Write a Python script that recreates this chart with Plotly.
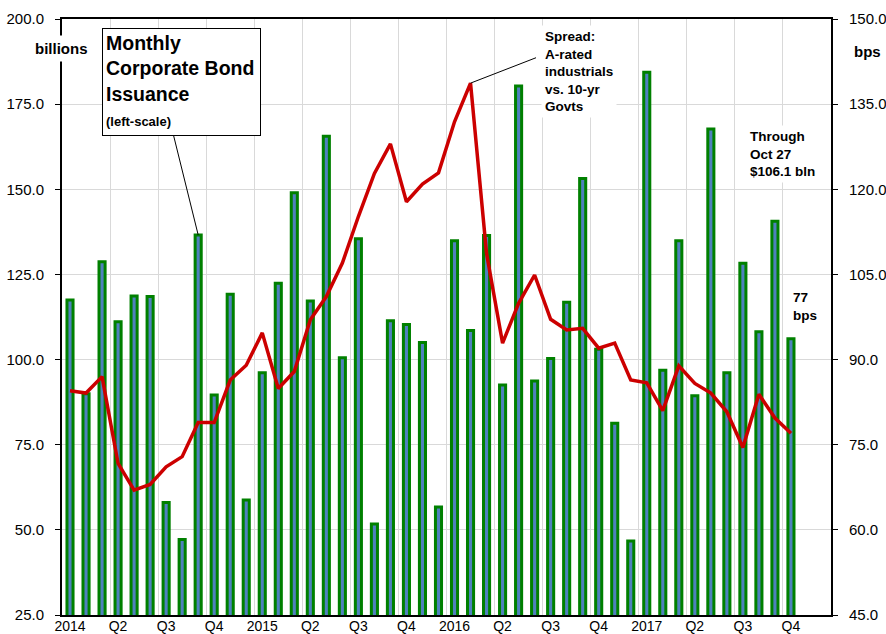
import plotly.graph_objects as go

# ---- data ----
months = [f"{y}-{m:02d}" for y in (2014, 2015, 2016, 2017) for m in range(1, 13)][:46]

issuance_bln = [117.5, 90.0, 128.7, 111.1, 118.7, 118.5, 58.0, 47.2, 136.6, 89.6, 119.2, 58.8,
                96.1, 122.4, 149.0, 117.2, 165.6, 100.5, 135.5, 51.7, 111.4, 110.3, 105.0, 56.7,
                134.9, 108.5, 136.4, 92.5, 180.3, 93.7, 100.3, 116.8, 153.2, 103.0, 81.3, 46.7,
                184.4, 96.9, 134.9, 89.4, 167.7, 96.1, 128.3, 108.2, 140.6, 106.1]

spread_bps = [84.5, 84.1, 87.0, 71.7, 67.0, 68.0, 71.1, 72.9, 78.9, 78.9, 86.4, 89.0,
              94.7, 84.9, 87.9, 97.0, 101.1, 107.0, 115.2, 122.8, 128.0, 117.8, 120.9, 122.9,
              131.9, 138.7, 108.7, 92.9, 99.9, 104.9, 97.1, 95.2, 95.5, 92.0, 92.9, 86.4,
              85.9, 81.0, 88.9, 85.8, 84.1, 80.8, 74.5, 83.9, 79.7, 77.0]

quarter_labels = ["2014", "Q2", "Q3", "Q4", "2015", "Q2", "Q3", "Q4",
                  "2016", "Q2", "Q3", "Q4", "2017", "Q2", "Q3", "Q4"]

idx = list(range(len(months)))
n_slots = 48
quarter_bounds = [3 * k - 0.5 for k in range(n_slots // 3 + 1)]
tick_text = quarter_labels + [""]

FONT = "Liberation Sans, Arial, Helvetica, sans-serif"

fig = go.Figure()
fig.add_trace(go.Bar(
    x=idx, y=issuance_bln, customdata=months, width=0.38,
    marker=dict(color="#4F81BD", line=dict(color="#008000", width=3)),
    name="Monthly Corporate Bond Issuance",
    hovertemplate="%{customdata}: %{y:.1f} bln<extra></extra>",
))
fig.add_trace(go.Scatter(
    x=idx, y=spread_bps, customdata=months, yaxis="y2", mode="lines",
    line=dict(color="#CC0000", width=3.5),
    name="Spread",
    hovertemplate="%{customdata}: %{y:.1f} bps<extra></extra>",
))

peak = max(range(len(spread_bps)), key=lambda i: spread_bps[i])
arrow_bar = 8

fig.update_layout(
    width=886, height=634,
    margin=dict(l=62, r=55, t=19, b=19, autoexpand=False),
    paper_bgcolor="white", plot_bgcolor="white",
    showlegend=False,
    font=dict(family=FONT, color="black"),
    xaxis=dict(
        range=[-0.5, n_slots - 0.5], tickmode="array",
        tickvals=quarter_bounds, ticktext=tick_text, ticklabelshift=8,
        ticklabelstandoff=-3,
        showgrid=True, gridcolor="#d9d9d9", gridwidth=1,
        showline=True, linecolor="black", linewidth=1.5, mirror=True,
        ticks="", tickfont=dict(size=14, family=FONT), zeroline=False,
    ),
    yaxis=dict(
        range=[25, 200], tickmode="linear", tick0=0, dtick=25, tickformat=".1f",
        showgrid=True, gridcolor="#d9d9d9", gridwidth=1,
        showline=True, linecolor="black", linewidth=2,
        ticks="outside", ticklen=5, tickcolor="black", tickwidth=1,
        ticklabelstandoff=8,
        tickfont=dict(size=15, family=FONT), zeroline=False,
    ),
    yaxis2=dict(
        range=[45, 150], tickmode="linear", tick0=45, dtick=15, tickformat=".1f",
        overlaying="y", side="right", showgrid=False,
        showline=True, linecolor="black", linewidth=2,
        ticks="outside", ticklen=5, tickcolor="black", tickwidth=1,
        ticklabelstandoff=8,
        tickfont=dict(size=15, family=FONT), zeroline=False,
    ),
    annotations=[
        # arrow: title box -> bar
        dict(x=arrow_bar, y=issuance_bln[arrow_bar], xref="x", yref="y",
             ax=-25, ay=-101, text=" ", font=dict(size=1), showarrow=True,
             arrowhead=0, arrowwidth=1, arrowcolor="black"),
        # arrow: spread label -> peak
        dict(x=peak, y=spread_bps[peak], xref="x", yref="y2",
             ax=67, ay=-26, text=" ", font=dict(size=1), showarrow=True,
             arrowhead=0, arrowwidth=1, arrowcolor="black"),
        dict(x=-0.001, y=0.95, xref="paper", yref="paper", xanchor="center", yanchor="middle",
             text="<b>billions</b>", showarrow=False, bgcolor="white", borderpad=4,
             font=dict(size=15, family=FONT)),
        dict(x=1.048, y=0.945, xref="paper", yref="paper", xanchor="center", yanchor="middle",
             text="<b>bps</b>", showarrow=False, font=dict(size=15, family=FONT)),
        dict(x=0.0516, y=0.9854, xref="paper", yref="paper", xanchor="left", yanchor="top",
             text="<b>Monthly<br>Corporate Bond<br>Issuance</b><br><b><span style='font-size:13px'>(left-scale)</span></b>",
             showarrow=False, align="left", valign="top", width=151, height=100,
             bgcolor="white", bordercolor="black", borderwidth=1, borderpad=3,
             font=dict(size=19.5, family=FONT)),
        dict(x=0.623, y=0.99, xref="paper", yref="paper", xanchor="left", yanchor="top",
             text="<b>Spread:<br>A-rated<br>industrials<br>vs. 10-yr<br>Govts</b>",
             showarrow=False, align="left", bgcolor="white", borderpad=3,
             font=dict(size=13.5, family=FONT)),
        dict(x=0.889, y=0.822, xref="paper", yref="paper", xanchor="left", yanchor="top",
             text="<b>Through<br>Oct 27<br>$106.1 bln</b>",
             showarrow=False, align="left", bgcolor="white", borderpad=3,
             font=dict(size=13.5, family=FONT)),
        dict(x=0.948, y=0.549, xref="paper", yref="paper", xanchor="left", yanchor="top",
             text="<b>77<br>bps</b>", showarrow=False, align="left",
             font=dict(size=13.5, family=FONT)),
    ],
)

# remove the default 8px page margin so the figure fills the window exactly
fig.write_html(
    "out.html",
    config={"displayModeBar": False},
    post_script="document.body.style.margin='0px';document.body.style.overflow='hidden';",
)
